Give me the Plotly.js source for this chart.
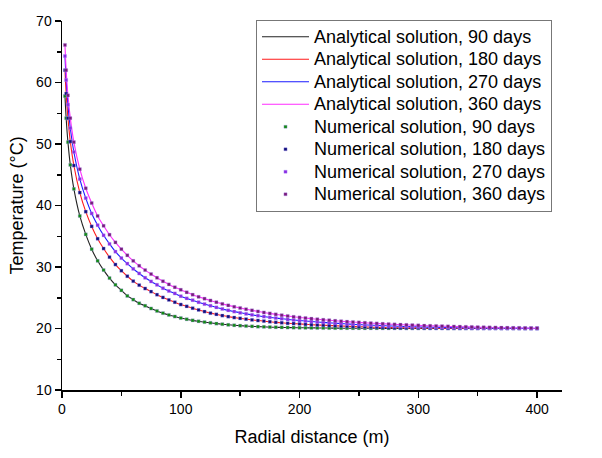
<!DOCTYPE html>
<html>
<head>
<meta charset="utf-8">
<script src="https://cdn.plot.ly/plotly-3.0.1.min.js"></script>
<style>html,body{margin:0;padding:0;background:#fff;}#chart{width:602px;height:458px;}</style>
</head>
<body>
<div id="chart"></div>
<script>
const radius = [2.5, 3.5, 5, 7, 10, 15, 20, 25, 30, 35, 40, 45, 50, 55, 60, 65, 70, 75, 80, 85, 90, 95, 100, 105, 110, 115, 120, 125, 130, 135, 140, 145, 150, 155, 160, 165, 170, 175, 180, 185, 190, 195, 200, 205, 210, 215, 220, 225, 230, 235, 240, 245, 250, 255, 260, 265, 270, 275, 280, 285, 290, 295, 300, 305, 310, 315, 320, 325, 330, 335, 340, 345, 350, 355, 360, 365, 370, 375, 380, 385, 390, 395, 400];

const temp90 = [57.8, 54.2, 50.3, 46.6, 42.7, 38.3, 35.3, 32.9, 31.0, 29.5, 28.2, 27.1, 26.2, 25.3, 24.7, 24.1, 23.7, 23.25, 22.85, 22.5, 22.2, 21.95, 21.7, 21.5, 21.32, 21.17, 21.04, 20.92, 20.8, 20.7, 20.6, 20.52, 20.46, 20.4, 20.35, 20.3, 20.27, 20.23, 20.2, 20.18, 20.16, 20.14, 20.12, 20.11, 20.1, 20.09, 20.08, 20.07, 20.06, 20.05, 20.05, 20.04, 20.04, 20.03, 20.03, 20.03, 20.02, 20.02, 20.02, 20.02, 20.01, 20.01, 20.01, 20.01, 20.01, 20.01, 20.01, 20.0, 20.0, 20.0, 20.0, 20.0, 20.0, 20.0, 20.0, 20.0, 20.0, 20.0, 20.0, 20.0, 20.0, 20.0, 20.0];

const temp180 = [62.0, 58.2, 54.2, 50.4, 46.5, 42.1, 39.0, 36.6, 34.6, 33.0, 31.6, 30.4, 29.4, 28.5, 27.7, 27.05, 26.5, 26.0, 25.5, 25.05, 24.65, 24.27, 23.9, 23.6, 23.3, 23.02, 22.75, 22.5, 22.3, 22.1, 21.93, 21.78, 21.65, 21.52, 21.4, 21.3, 21.2, 21.1, 21.0, 20.93, 20.85, 20.8, 20.75, 20.68, 20.62, 20.57, 20.53, 20.48, 20.44, 20.4, 20.36, 20.32, 20.29, 20.26, 20.23, 20.2, 20.18, 20.16, 20.14, 20.12, 20.11, 20.1, 20.1, 20.09, 20.08, 20.07, 20.06, 20.05, 20.05, 20.04, 20.04, 20.03, 20.03, 20.02, 20.02, 20.02, 20.01, 20.01, 20.01, 20.01, 20.0, 20.0, 20.0];

const temp270 = [64.3, 60.4, 56.4, 52.6, 48.7, 44.3, 41.2, 38.7, 36.8, 35.15, 33.75, 32.5, 31.45, 30.55, 29.7, 28.95, 28.25, 27.65, 27.1, 26.55, 26.1, 25.7, 25.25, 24.9, 24.6, 24.27, 23.97, 23.7, 23.43, 23.18, 22.95, 22.75, 22.55, 22.38, 22.22, 22.08, 21.94, 21.82, 21.7, 21.59, 21.48, 21.38, 21.3, 21.21, 21.13, 21.06, 20.99, 20.92, 20.86, 20.8, 20.74, 20.68, 20.63, 20.58, 20.54, 20.5, 20.46, 20.42, 20.38, 20.35, 20.32, 20.29, 20.27, 20.24, 20.22, 20.2, 20.18, 20.16, 20.14, 20.12, 20.11, 20.1, 20.08, 20.07, 20.06, 20.05, 20.04, 20.04, 20.03, 20.02, 20.02, 20.01, 20.01];

const temp360 = [66.1, 62.0, 57.9, 54.2, 50.3, 45.9, 42.8, 40.4, 38.3, 36.7, 35.25, 34.0, 32.9, 31.9, 31.0, 30.2, 29.5, 28.85, 28.25, 27.68, 27.17, 26.7, 26.3, 25.88, 25.5, 25.15, 24.85, 24.55, 24.27, 24.0, 23.76, 23.53, 23.33, 23.13, 22.95, 22.77, 22.6, 22.45, 22.3, 22.16, 22.03, 21.9, 21.8, 21.7, 21.6, 21.5, 21.42, 21.34, 21.26, 21.18, 21.11, 21.05, 20.99, 20.93, 20.87, 20.82, 20.77, 20.72, 20.67, 20.63, 20.59, 20.55, 20.51, 20.47, 20.44, 20.41, 20.38, 20.35, 20.32, 20.3, 20.27, 20.25, 20.22, 20.2, 20.18, 20.16, 20.14, 20.12, 20.1, 20.09, 20.07, 20.06, 20.05];

const seriesDays = ['90', '180', '270', '360'];
const seriesTemps = [temp90, temp180, temp270, temp360];
const lineColors = ['#222222', '#ff1a1a', '#1a1aff', '#ff2cff'];
const markerColors = ['#138a13', '#10107a', '#8a2be2', '#7a1a7a'];

function legendLabel(t) {
  return '<span style="font-size:18px">' + t + '</span>';
}

const traces = [];
seriesDays.forEach((d, i) => {
  traces.push({
    x: radius, y: seriesTemps[i], type: 'scatter', mode: 'lines',
    name: legendLabel('Analytical solution, ' + d + ' days'),
    line: {color: lineColors[i], width: 1.1, shape: 'spline', smoothing: 0.8}
  });
});
seriesDays.forEach((d, i) => {
  traces.push({
    x: radius, y: seriesTemps[i], type: 'scatter', mode: 'markers',
    name: legendLabel('Numerical solution, ' + d + ' days'),
    marker: {color: markerColors[i], size: 3.2, symbol: 'square', line: {width: 0.6, color: 'rgba(180,160,255,0.55)'}}
  });
});

const fontFam = 'Arial, "Liberation Sans", sans-serif';
const layout = {
  width: 602, height: 458,
  margin: {l: 62, r: 40, t: 21, b: 68, pad: 0},
  paper_bgcolor: '#fff', plot_bgcolor: '#fff',
  font: {family: fontFam, color: '#000', size: 14},
  showlegend: true,
  legend: {
    x: 0.388, y: 1.004, xanchor: 'left', yanchor: 'top',
    bgcolor: '#fff', bordercolor: '#777', borderwidth: 1,
    font: {family: fontFam, size: 15, color: '#000'},
    itemwidth: 47,
    tracegroupgap: 0
  },
  xaxis: {
    range: [0, 421], tickvals: [0, 100, 200, 300, 400],
    showgrid: false, zeroline: false, showline: true, linecolor: '#000', linewidth: 1.5,
    ticks: 'outside', ticklen: 6, tickwidth: 1.5, tickcolor: '#000',
    tickfont: {family: fontFam, size: 14},
    minor: {tickvals: [50, 150, 250, 350], ticks: 'outside', ticklen: 4, tickwidth: 1.5, tickcolor: '#000', showgrid: false},
    title: {text: 'Radial distance (m)', font: {family: fontFam, size: 18}, standoff: 14}
  },
  yaxis: {
    range: [10, 70], tickvals: [10, 20, 30, 40, 50, 60, 70],
    showgrid: false, zeroline: false, showline: true, linecolor: '#000', linewidth: 1.5,
    ticks: 'outside', ticklen: 6, tickwidth: 1.5, tickcolor: '#000',
    tickfont: {family: fontFam, size: 14},
    minor: {tickvals: [15, 25, 35, 45, 55, 65], ticks: 'outside', ticklen: 4, tickwidth: 1.5, tickcolor: '#000', showgrid: false},
    title: {text: 'Temperature (°C)', font: {family: fontFam, size: 18}, standoff: 8}
  }
};

Plotly.newPlot('chart', traces, layout, {staticPlot: true, displayModeBar: false});
</script>
</body>
</html>
